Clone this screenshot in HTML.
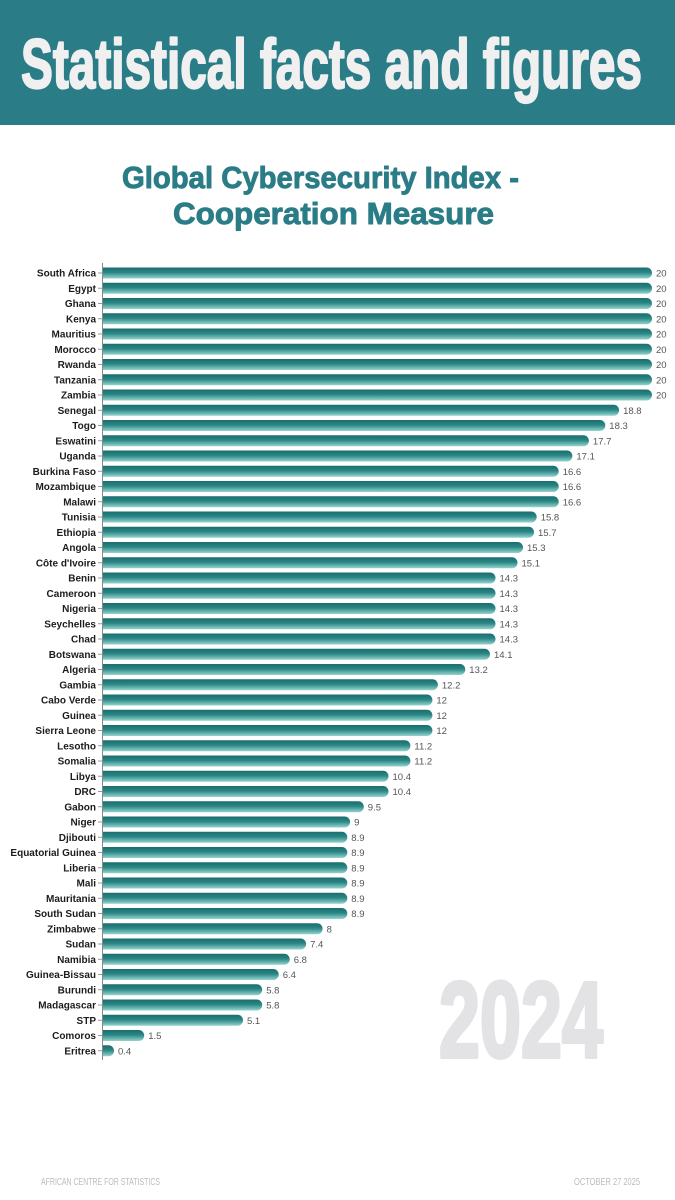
<!DOCTYPE html>
<html><head><meta charset="utf-8"><style>
html,body{margin:0;padding:0;background:#fff;}
svg{display:block;}
.l{font-family:"Liberation Sans",Arial,sans-serif;font-weight:bold;font-size:10px;fill:#1c1c1c;text-anchor:end;}
.v{font-family:"Liberation Sans",Arial,sans-serif;font-size:9.5px;fill:#555;}
.b{fill:url(#g);}
.t{stroke:#999;stroke-width:1;}
</style></head><body>
<svg width="675" height="1200" viewBox="0 0 675 1200" xmlns="http://www.w3.org/2000/svg">
<defs><linearGradient id="g" x1="0" y1="0" x2="0" y2="1"><stop offset="0" stop-color="#1a6d6e"/><stop offset="0.45" stop-color="#2a8684"/><stop offset="1" stop-color="#94d4cf"/></linearGradient></defs>
<rect x="0" y="0" width="675" height="125" fill="#2a7c87"/>
<text x="21" y="88" font-family="Liberation Sans, Arial, sans-serif" font-weight="bold" font-size="70" fill="#f0f0f0" stroke="#f0f0f0" stroke-width="2.2" stroke-linejoin="round" textLength="621" lengthAdjust="spacingAndGlyphs">Statistical facts and figures</text>
<text x="122" y="188" font-family="Liberation Sans, Arial, sans-serif" font-weight="bold" font-size="31" fill="#2a7c86" stroke="#2a7c86" stroke-width="0.9" stroke-linejoin="round" textLength="397" lengthAdjust="spacingAndGlyphs">Global Cybersecurity Index -</text>
<text x="173" y="224" font-family="Liberation Sans, Arial, sans-serif" font-weight="bold" font-size="31" fill="#2a7c86" stroke="#2a7c86" stroke-width="0.9" stroke-linejoin="round" textLength="321" lengthAdjust="spacingAndGlyphs">Cooperation Measure</text>
<text x="439" y="1057" font-family="Liberation Sans, Arial, sans-serif" font-weight="bold" font-size="108" fill="#e3e3e6" stroke="#e3e3e6" stroke-width="4" stroke-linejoin="round" textLength="164" lengthAdjust="spacingAndGlyphs">2024</text>
<line x1="102.5" y1="263" x2="102.5" y2="1060" stroke="#888" stroke-width="1"/>
<g transform="translate(0,273)"><line class="t" x1="98" y1="0" x2="102" y2="0"/><text class="l" x="96" y="3.5">South Africa</text><path class="b" d="M103 -5.5h543.5a5.5 5.5 0 0 1 0 11H103z"/><text class="v" x="656" y="3.5">20</text></g>
<g transform="translate(0,288.25)"><line class="t" x1="98" y1="0" x2="102" y2="0"/><text class="l" x="96" y="3.5">Egypt</text><path class="b" d="M103 -5.5h543.5a5.5 5.5 0 0 1 0 11H103z"/><text class="v" x="656" y="3.5">20</text></g>
<g transform="translate(0,303.5)"><line class="t" x1="98" y1="0" x2="102" y2="0"/><text class="l" x="96" y="3.5">Ghana</text><path class="b" d="M103 -5.5h543.5a5.5 5.5 0 0 1 0 11H103z"/><text class="v" x="656" y="3.5">20</text></g>
<g transform="translate(0,318.75)"><line class="t" x1="98" y1="0" x2="102" y2="0"/><text class="l" x="96" y="3.5">Kenya</text><path class="b" d="M103 -5.5h543.5a5.5 5.5 0 0 1 0 11H103z"/><text class="v" x="656" y="3.5">20</text></g>
<g transform="translate(0,334)"><line class="t" x1="98" y1="0" x2="102" y2="0"/><text class="l" x="96" y="3.5">Mauritius</text><path class="b" d="M103 -5.5h543.5a5.5 5.5 0 0 1 0 11H103z"/><text class="v" x="656" y="3.5">20</text></g>
<g transform="translate(0,349.25)"><line class="t" x1="98" y1="0" x2="102" y2="0"/><text class="l" x="96" y="3.5">Morocco</text><path class="b" d="M103 -5.5h543.5a5.5 5.5 0 0 1 0 11H103z"/><text class="v" x="656" y="3.5">20</text></g>
<g transform="translate(0,364.5)"><line class="t" x1="98" y1="0" x2="102" y2="0"/><text class="l" x="96" y="3.5">Rwanda</text><path class="b" d="M103 -5.5h543.5a5.5 5.5 0 0 1 0 11H103z"/><text class="v" x="656" y="3.5">20</text></g>
<g transform="translate(0,379.75)"><line class="t" x1="98" y1="0" x2="102" y2="0"/><text class="l" x="96" y="3.5">Tanzania</text><path class="b" d="M103 -5.5h543.5a5.5 5.5 0 0 1 0 11H103z"/><text class="v" x="656" y="3.5">20</text></g>
<g transform="translate(0,395)"><line class="t" x1="98" y1="0" x2="102" y2="0"/><text class="l" x="96" y="3.5">Zambia</text><path class="b" d="M103 -5.5h543.5a5.5 5.5 0 0 1 0 11H103z"/><text class="v" x="656" y="3.5">20</text></g>
<g transform="translate(0,410.25)"><line class="t" x1="98" y1="0" x2="102" y2="0"/><text class="l" x="96" y="3.5">Senegal</text><path class="b" d="M103 -5.5h510.6a5.5 5.5 0 0 1 0 11H103z"/><text class="v" x="623.1" y="3.5">18.8</text></g>
<g transform="translate(0,425.5)"><line class="t" x1="98" y1="0" x2="102" y2="0"/><text class="l" x="96" y="3.5">Togo</text><path class="b" d="M103 -5.5h496.8a5.5 5.5 0 0 1 0 11H103z"/><text class="v" x="609.3" y="3.5">18.3</text></g>
<g transform="translate(0,440.75)"><line class="t" x1="98" y1="0" x2="102" y2="0"/><text class="l" x="96" y="3.5">Eswatini</text><path class="b" d="M103 -5.5h480.4a5.5 5.5 0 0 1 0 11H103z"/><text class="v" x="592.9" y="3.5">17.7</text></g>
<g transform="translate(0,456)"><line class="t" x1="98" y1="0" x2="102" y2="0"/><text class="l" x="96" y="3.5">Uganda</text><path class="b" d="M103 -5.5h463.9a5.5 5.5 0 0 1 0 11H103z"/><text class="v" x="576.4" y="3.5">17.1</text></g>
<g transform="translate(0,471.25)"><line class="t" x1="98" y1="0" x2="102" y2="0"/><text class="l" x="96" y="3.5">Burkina Faso</text><path class="b" d="M103 -5.5h450.2a5.5 5.5 0 0 1 0 11H103z"/><text class="v" x="562.7" y="3.5">16.6</text></g>
<g transform="translate(0,486.5)"><line class="t" x1="98" y1="0" x2="102" y2="0"/><text class="l" x="96" y="3.5">Mozambique</text><path class="b" d="M103 -5.5h450.2a5.5 5.5 0 0 1 0 11H103z"/><text class="v" x="562.7" y="3.5">16.6</text></g>
<g transform="translate(0,501.75)"><line class="t" x1="98" y1="0" x2="102" y2="0"/><text class="l" x="96" y="3.5">Malawi</text><path class="b" d="M103 -5.5h450.2a5.5 5.5 0 0 1 0 11H103z"/><text class="v" x="562.7" y="3.5">16.6</text></g>
<g transform="translate(0,517)"><line class="t" x1="98" y1="0" x2="102" y2="0"/><text class="l" x="96" y="3.5">Tunisia</text><path class="b" d="M103 -5.5h428.2a5.5 5.5 0 0 1 0 11H103z"/><text class="v" x="540.7" y="3.5">15.8</text></g>
<g transform="translate(0,532.25)"><line class="t" x1="98" y1="0" x2="102" y2="0"/><text class="l" x="96" y="3.5">Ethiopia</text><path class="b" d="M103 -5.5h425.5a5.5 5.5 0 0 1 0 11H103z"/><text class="v" x="538" y="3.5">15.7</text></g>
<g transform="translate(0,547.5)"><line class="t" x1="98" y1="0" x2="102" y2="0"/><text class="l" x="96" y="3.5">Angola</text><path class="b" d="M103 -5.5h414.5a5.5 5.5 0 0 1 0 11H103z"/><text class="v" x="527" y="3.5">15.3</text></g>
<g transform="translate(0,562.75)"><line class="t" x1="98" y1="0" x2="102" y2="0"/><text class="l" x="96" y="3.5">Côte d'Ivoire</text><path class="b" d="M103 -5.5h409a5.5 5.5 0 0 1 0 11H103z"/><text class="v" x="521.5" y="3.5">15.1</text></g>
<g transform="translate(0,578)"><line class="t" x1="98" y1="0" x2="102" y2="0"/><text class="l" x="96" y="3.5">Benin</text><path class="b" d="M103 -5.5h387a5.5 5.5 0 0 1 0 11H103z"/><text class="v" x="499.5" y="3.5">14.3</text></g>
<g transform="translate(0,593.25)"><line class="t" x1="98" y1="0" x2="102" y2="0"/><text class="l" x="96" y="3.5">Cameroon</text><path class="b" d="M103 -5.5h387a5.5 5.5 0 0 1 0 11H103z"/><text class="v" x="499.5" y="3.5">14.3</text></g>
<g transform="translate(0,608.5)"><line class="t" x1="98" y1="0" x2="102" y2="0"/><text class="l" x="96" y="3.5">Nigeria</text><path class="b" d="M103 -5.5h387a5.5 5.5 0 0 1 0 11H103z"/><text class="v" x="499.5" y="3.5">14.3</text></g>
<g transform="translate(0,623.75)"><line class="t" x1="98" y1="0" x2="102" y2="0"/><text class="l" x="96" y="3.5">Seychelles</text><path class="b" d="M103 -5.5h387a5.5 5.5 0 0 1 0 11H103z"/><text class="v" x="499.5" y="3.5">14.3</text></g>
<g transform="translate(0,639)"><line class="t" x1="98" y1="0" x2="102" y2="0"/><text class="l" x="96" y="3.5">Chad</text><path class="b" d="M103 -5.5h387a5.5 5.5 0 0 1 0 11H103z"/><text class="v" x="499.5" y="3.5">14.3</text></g>
<g transform="translate(0,654.25)"><line class="t" x1="98" y1="0" x2="102" y2="0"/><text class="l" x="96" y="3.5">Botswana</text><path class="b" d="M103 -5.5h381.5a5.5 5.5 0 0 1 0 11H103z"/><text class="v" x="494" y="3.5">14.1</text></g>
<g transform="translate(0,669.5)"><line class="t" x1="98" y1="0" x2="102" y2="0"/><text class="l" x="96" y="3.5">Algeria</text><path class="b" d="M103 -5.5h356.8a5.5 5.5 0 0 1 0 11H103z"/><text class="v" x="469.3" y="3.5">13.2</text></g>
<g transform="translate(0,684.75)"><line class="t" x1="98" y1="0" x2="102" y2="0"/><text class="l" x="96" y="3.5">Gambia</text><path class="b" d="M103 -5.5h329.4a5.5 5.5 0 0 1 0 11H103z"/><text class="v" x="441.9" y="3.5">12.2</text></g>
<g transform="translate(0,700)"><line class="t" x1="98" y1="0" x2="102" y2="0"/><text class="l" x="96" y="3.5">Cabo Verde</text><path class="b" d="M103 -5.5h323.9a5.5 5.5 0 0 1 0 11H103z"/><text class="v" x="436.4" y="3.5">12</text></g>
<g transform="translate(0,715.25)"><line class="t" x1="98" y1="0" x2="102" y2="0"/><text class="l" x="96" y="3.5">Guinea</text><path class="b" d="M103 -5.5h323.9a5.5 5.5 0 0 1 0 11H103z"/><text class="v" x="436.4" y="3.5">12</text></g>
<g transform="translate(0,730.5)"><line class="t" x1="98" y1="0" x2="102" y2="0"/><text class="l" x="96" y="3.5">Sierra Leone</text><path class="b" d="M103 -5.5h323.9a5.5 5.5 0 0 1 0 11H103z"/><text class="v" x="436.4" y="3.5">12</text></g>
<g transform="translate(0,745.75)"><line class="t" x1="98" y1="0" x2="102" y2="0"/><text class="l" x="96" y="3.5">Lesotho</text><path class="b" d="M103 -5.5h301.9a5.5 5.5 0 0 1 0 11H103z"/><text class="v" x="414.4" y="3.5">11.2</text></g>
<g transform="translate(0,761)"><line class="t" x1="98" y1="0" x2="102" y2="0"/><text class="l" x="96" y="3.5">Somalia</text><path class="b" d="M103 -5.5h301.9a5.5 5.5 0 0 1 0 11H103z"/><text class="v" x="414.4" y="3.5">11.2</text></g>
<g transform="translate(0,776.25)"><line class="t" x1="98" y1="0" x2="102" y2="0"/><text class="l" x="96" y="3.5">Libya</text><path class="b" d="M103 -5.5h280a5.5 5.5 0 0 1 0 11H103z"/><text class="v" x="392.5" y="3.5">10.4</text></g>
<g transform="translate(0,791.5)"><line class="t" x1="98" y1="0" x2="102" y2="0"/><text class="l" x="96" y="3.5">DRC</text><path class="b" d="M103 -5.5h280a5.5 5.5 0 0 1 0 11H103z"/><text class="v" x="392.5" y="3.5">10.4</text></g>
<g transform="translate(0,806.75)"><line class="t" x1="98" y1="0" x2="102" y2="0"/><text class="l" x="96" y="3.5">Gabon</text><path class="b" d="M103 -5.5h255.3a5.5 5.5 0 0 1 0 11H103z"/><text class="v" x="367.8" y="3.5">9.5</text></g>
<g transform="translate(0,822)"><line class="t" x1="98" y1="0" x2="102" y2="0"/><text class="l" x="96" y="3.5">Niger</text><path class="b" d="M103 -5.5h241.6a5.5 5.5 0 0 1 0 11H103z"/><text class="v" x="354.1" y="3.5">9</text></g>
<g transform="translate(0,837.25)"><line class="t" x1="98" y1="0" x2="102" y2="0"/><text class="l" x="96" y="3.5">Djibouti</text><path class="b" d="M103 -5.5h238.8a5.5 5.5 0 0 1 0 11H103z"/><text class="v" x="351.3" y="3.5">8.9</text></g>
<g transform="translate(0,852.5)"><line class="t" x1="98" y1="0" x2="102" y2="0"/><text class="l" x="96" y="3.5">Equatorial Guinea</text><path class="b" d="M103 -5.5h238.8a5.5 5.5 0 0 1 0 11H103z"/><text class="v" x="351.3" y="3.5">8.9</text></g>
<g transform="translate(0,867.75)"><line class="t" x1="98" y1="0" x2="102" y2="0"/><text class="l" x="96" y="3.5">Liberia</text><path class="b" d="M103 -5.5h238.8a5.5 5.5 0 0 1 0 11H103z"/><text class="v" x="351.3" y="3.5">8.9</text></g>
<g transform="translate(0,883)"><line class="t" x1="98" y1="0" x2="102" y2="0"/><text class="l" x="96" y="3.5">Mali</text><path class="b" d="M103 -5.5h238.8a5.5 5.5 0 0 1 0 11H103z"/><text class="v" x="351.3" y="3.5">8.9</text></g>
<g transform="translate(0,898.25)"><line class="t" x1="98" y1="0" x2="102" y2="0"/><text class="l" x="96" y="3.5">Mauritania</text><path class="b" d="M103 -5.5h238.8a5.5 5.5 0 0 1 0 11H103z"/><text class="v" x="351.3" y="3.5">8.9</text></g>
<g transform="translate(0,913.5)"><line class="t" x1="98" y1="0" x2="102" y2="0"/><text class="l" x="96" y="3.5">South Sudan</text><path class="b" d="M103 -5.5h238.8a5.5 5.5 0 0 1 0 11H103z"/><text class="v" x="351.3" y="3.5">8.9</text></g>
<g transform="translate(0,928.75)"><line class="t" x1="98" y1="0" x2="102" y2="0"/><text class="l" x="96" y="3.5">Zimbabwe</text><path class="b" d="M103 -5.5h214.1a5.5 5.5 0 0 1 0 11H103z"/><text class="v" x="326.6" y="3.5">8</text></g>
<g transform="translate(0,944)"><line class="t" x1="98" y1="0" x2="102" y2="0"/><text class="l" x="96" y="3.5">Sudan</text><path class="b" d="M103 -5.5h197.6a5.5 5.5 0 0 1 0 11H103z"/><text class="v" x="310.1" y="3.5">7.4</text></g>
<g transform="translate(0,959.25)"><line class="t" x1="98" y1="0" x2="102" y2="0"/><text class="l" x="96" y="3.5">Namibia</text><path class="b" d="M103 -5.5h181.2a5.5 5.5 0 0 1 0 11H103z"/><text class="v" x="293.7" y="3.5">6.8</text></g>
<g transform="translate(0,974.5)"><line class="t" x1="98" y1="0" x2="102" y2="0"/><text class="l" x="96" y="3.5">Guinea-Bissau</text><path class="b" d="M103 -5.5h170.2a5.5 5.5 0 0 1 0 11H103z"/><text class="v" x="282.7" y="3.5">6.4</text></g>
<g transform="translate(0,989.75)"><line class="t" x1="98" y1="0" x2="102" y2="0"/><text class="l" x="96" y="3.5">Burundi</text><path class="b" d="M103 -5.5h153.7a5.5 5.5 0 0 1 0 11H103z"/><text class="v" x="266.2" y="3.5">5.8</text></g>
<g transform="translate(0,1005)"><line class="t" x1="98" y1="0" x2="102" y2="0"/><text class="l" x="96" y="3.5">Madagascar</text><path class="b" d="M103 -5.5h153.7a5.5 5.5 0 0 1 0 11H103z"/><text class="v" x="266.2" y="3.5">5.8</text></g>
<g transform="translate(0,1020.25)"><line class="t" x1="98" y1="0" x2="102" y2="0"/><text class="l" x="96" y="3.5">STP</text><path class="b" d="M103 -5.5h134.5a5.5 5.5 0 0 1 0 11H103z"/><text class="v" x="247" y="3.5">5.1</text></g>
<g transform="translate(0,1035.5)"><line class="t" x1="98" y1="0" x2="102" y2="0"/><text class="l" x="96" y="3.5">Comoros</text><path class="b" d="M103 -5.5h35.7a5.5 5.5 0 0 1 0 11H103z"/><text class="v" x="148.2" y="3.5">1.5</text></g>
<g transform="translate(0,1050.75)"><line class="t" x1="98" y1="0" x2="102" y2="0"/><text class="l" x="96" y="3.5">Eritrea</text><path class="b" d="M103 -5.5h5.5a5.5 5.5 0 0 1 0 11H103z"/><text class="v" x="118" y="3.5">0.4</text></g>
<text x="41" y="1185" font-family="Liberation Sans, Arial, sans-serif" font-size="10" fill="#bcbcbc" textLength="119" lengthAdjust="spacingAndGlyphs">AFRICAN CENTRE FOR STATISTICS</text>
<text x="574" y="1185" font-family="Liberation Sans, Arial, sans-serif" font-size="10" fill="#bcbcbc" textLength="66" lengthAdjust="spacingAndGlyphs">OCTOBER 27 2025</text>
</svg>
</body></html>
